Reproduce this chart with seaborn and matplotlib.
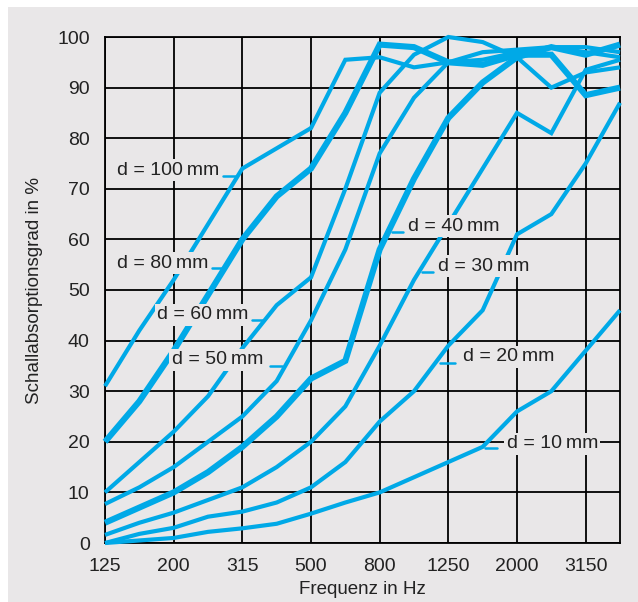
import matplotlib
matplotlib.use("Agg")
import matplotlib.pyplot as plt
from matplotlib.patches import Rectangle
import numpy as np
import pandas as pd
import seaborn as sns

# third-octave centre frequencies (Hz)
freqs = ["125", "160", "200", "250", "315", "400", "500", "630",
         "800", "1000", "1250", "1600", "2000", "2500", "3150", "4000"]
tick_labels = ["125", "200", "315", "500", "800", "1250", "2000", "3150"]
y_ticks = [0, 10, 20, 30, 40, 50, 60, 70, 80, 90, 100]

# absorption coefficient in % per layer thickness
d100 = [31, 42, 52, 63, 74, 78, 82, 95.5, 96, 94, 95, 95.5, 97, 98, 98, 97]
d80 = [20, 28, 38, 49, 60, 68.5, 74, 85, 98.5, 98, 95, 94.5, 96.5, 96.5, 88.5, 90]
d60 = [10, 16, 22, 29, 38.5, 47, 52.5, 70, 89, 96.5, 100, 99, 96, 90, 93, 94]
d50 = [7.7, 11, 15, 20, 25, 32, 44, 58, 77, 88, 95, 97, 97.5, 98, 97, 96]
d40 = [4, 7, 10, 14, 19, 25, 32.5, 36, 58, 72, 84, 91, 96, 98, 96.5, 98.5]
d30 = [1.6, 4, 6, 8.5, 11, 15, 20, 27, 39, 52, 63, 74, 85, 81, 93.5, 95.5]
d20 = [0, 1.8, 3, 5.2, 6.2, 8, 11, 16, 24, 30, 39, 46, 61, 65, 75, 87]
d10 = [0, 0.5, 1, 2.2, 2.9, 3.8, 5.8, 8, 10, 13, 16, 19, 26, 30, 38, 46]

names = ["d = 100\u2009mm", "d = 80\u2009mm", "d = 60\u2009mm", "d = 50\u2009mm",
         "d = 40\u2009mm", "d = 30\u2009mm", "d = 20\u2009mm", "d = 10\u2009mm"]
series = [d100, d80, d60, d50, d40, d30, d20, d10]
thick = [False, True, False, False, True, False, False, False]

# label anchors (x in band index, y in %) and leader lines (x0, x1, y)
label_pos = [(0.35, 73.7), (0.34, 55.3), (1.51, 45.1), (1.94, 36.2),
             (8.83, 62.6), (9.71, 54.7), (10.44, 36.8), (11.70, 19.6)]
leaders = [(3.44, 3.85, 72.5), (3.11, 3.45, 54.3), (4.27, 4.61, 44.1), (4.81, 5.15, 35.0),
           (8.35, 8.69, 61.5), (9.22, 9.56, 53.6), (9.76, 10.19, 35.5), (11.07, 11.42, 18.7)]

BG = "#e9e7e8"
LINE = "#00a9e7"
TXT = "#222222"

sns.set_theme(style="white")
plt.rcParams["font.family"] = ["Liberation Sans", "DejaVu Sans"]

fig = plt.figure(figsize=(6.38, 6.02), dpi=100, facecolor="white")
fig.patches.append(Rectangle((8 / 638, 0), 1, 1 - 7 / 602, transform=fig.transFigure,
                             facecolor=BG, edgecolor="none", zorder=-10))
ax = fig.add_axes([105 / 638, 59 / 602, 515 / 638, 506 / 602])
ax.set_facecolor(BG)

rows = []
for name, vals, t in zip(names, series, thick):
    for i, v in enumerate(vals):
        rows.append({"idx": i, "value": v, "name": name, "w": "thick" if t else "thin"})
df = pd.DataFrame(rows)

for name, t in zip(names, thick):
    sub = df[df["name"] == name]
    sns.lineplot(data=sub, x="idx", y="value", ax=ax, color=LINE,
                 linewidth=4.4 if t else 3.0, clip_on=False, zorder=3,
                 solid_joinstyle="miter", solid_capstyle="butt")

for name, (tx, ty), (x0, x1, ly) in zip(names, label_pos, leaders):
    ax.text(tx, ty, name, ha="left", va="center", fontsize=14, color=TXT,
            zorder=5, bbox=dict(boxstyle="square,pad=0.12", facecolor=BG, edgecolor="none"))
    ax.plot([x0, x1], [ly, ly], color=LINE, linewidth=1.8, zorder=6)

ax.set_xlim(0, 15)
ax.set_ylim(0, 100)
ax.set_xticks(range(0, 16, 2))
ax.set_xticklabels(tick_labels)
ax.set_yticks(y_ticks)
ax.grid(True, color="black", linewidth=1.3, zorder=1)
ax.set_axisbelow(True)
ax.tick_params(length=0, labelsize=14, colors=TXT)
ax.tick_params(axis="x", pad=11)
ax.tick_params(axis="y", pad=11)
for sp in ax.spines.values():
    sp.set_color("black")
    sp.set_linewidth(1.3)

ax.set_xlabel("Frequenz in Hz", fontsize=13.5, color=TXT, labelpad=4)
ax.set_ylabel("Schallabsorptionsgrad in %", fontsize=13.5, color=TXT, labelpad=10)

fig.savefig("out.png", dpi=100, facecolor=fig.get_facecolor())
